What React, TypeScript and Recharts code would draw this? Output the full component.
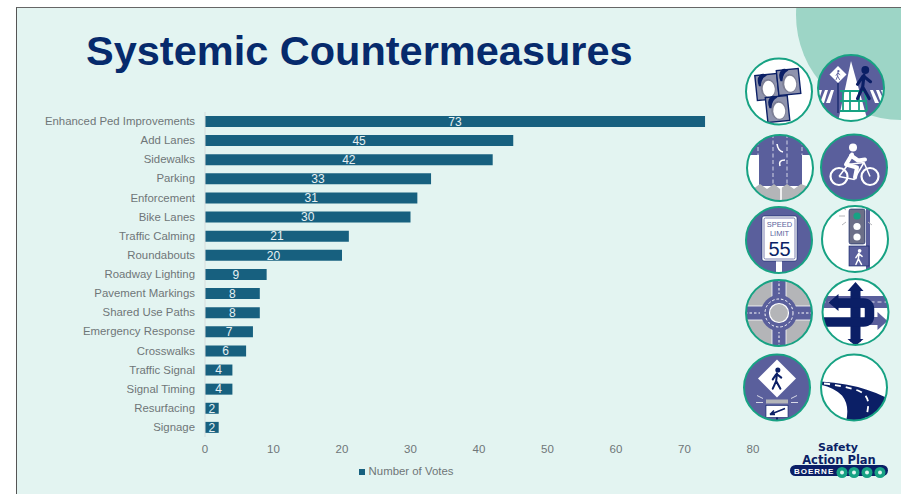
import React from "react";
import { Bar, BarChart, LabelList, Legend, XAxis, YAxis } from "recharts";

const categories = [
  "Enhanced Ped Improvements",
  "Add Lanes",
  "Sidewalks",
  "Parking",
  "Enforcement",
  "Bike Lanes",
  "Traffic Calming",
  "Roundabouts",
  "Roadway Lighting",
  "Pavement Markings",
  "Shared Use Paths",
  "Emergency Response",
  "Crosswalks",
  "Traffic Signal",
  "Signal Timing",
  "Resurfacing",
  "Signage",
];
const votes = [73, 45, 42, 33, 31, 30, 21, 20, 9, 8, 8, 7, 6, 4, 4, 2, 2];
const xTicks = [0, 10, 20, 30, 40, 50, 60, 70, 80];

const chartData = categories.map((name, i) => ({ name, votes: votes[i] }));

const FONT = '"Liberation Sans", Arial, sans-serif';
const LOGO_FONT = '"DejaVu Sans", sans-serif';
const SLIDE = "#e3f4f1";
const MINT = "#9dd5c6";
const BAR = "#17607f";
const TEXT = "#6f7678";
const NAVY = "#062a6c";
const DARK = "#0b1f66";
const PURPLE = "#5a5f9c";
const GREEN = "#17a283";
const GRAY = "#b4b5b8";

// Round badge: clips its artwork to the circle, then rings it in green
const Badge = ({ id, x, y, bg, children }: any) => (
  <g transform={`translate(${x} ${y})`}>
    <clipPath id={id}>
      <circle r={33} />
    </clipPath>
    <circle r={33} fill={bg} />
    <g clipPath={`url(#${id})`}>{children}</g>
    <circle r={33} fill="none" stroke={GREEN} strokeWidth={2} />
  </g>
);

const Walker = ({ x, y, s = 1, fill }: any) => (
  <g transform={`translate(${x} ${y}) scale(${s})`} fill={fill} stroke={fill}>
    <circle cx={1} cy={-10} r={3} stroke="none" />
    <path d="M0 -6 L-1 3 L-5 12 M-1 3 L4 12 M-1 -5 L-5 1 M0 -5 L5 -1" fill="none" strokeWidth={2.4} strokeLinecap="round" strokeLinejoin="round" />
  </g>
);

const SignalHead = ({ x, y }: any) => (
  <g transform={`translate(${x} ${y}) rotate(-6)`}>
    <rect x={-11} y={-12} width={22} height={25} fill="#8f93ad" stroke={DARK} strokeWidth={1.4} />
    <ellipse cx={1} cy={2} rx={7.5} ry={9.5} fill="#7d7f95" />
    <ellipse cx={1.5} cy={2.5} rx={6} ry={8} fill="#fff" />
    <path d="M-8 -1 Q-10 -9 -6 -12 A 5 5 0 0 1 1 -11 Q-5 -9 -6 -1 Z" fill={DARK} />
  </g>
);

const SignalsIcon = () => (
  <Badge id="b1" x={779} y={91.5} bg="#fff">
    <SignalHead x={-12} y={-5} />
    <SignalHead x={9.5} y={-10} />
    <SignalHead x={-1.5} y={17} />
  </Badge>
);

const CrossingIcon = () => (
  <Badge id="b2" x={851} y={88} bg={PURPLE}>
    <path d="M0 -27 L-13 34 L17 34 Z" fill="#fff" />
    {[-32, -26, -20, 19, 25, 30].map((sx, i) => (
      <path key={i} d={`M${sx} 2 L${sx + 3} 2 L${sx + (sx < 0 ? -1 : 9)} 15 L${sx + (sx < 0 ? -5 : 5)} 15 Z`} fill="#fff" />
    ))}
    <path d="M-11 3 H14 M-11 13 H15 M-11 23 H16 M-8 3 V23 M-1 3 V23 M8 3 V23 M14 3 L16 23" stroke={GREEN} strokeWidth={1.8} fill="none" />
    <path d="M-13 -22 L-4.5 -13.5 L-13 -5 L-21.5 -13.5 Z" fill="#fff" />
    <Walker x={-13} y={-13} s={0.38} fill={PURPLE} />
    <path d="M-13 -5 V25" stroke={DARK} strokeWidth={1.2} />
    <Walker x={13} y={-5} s={1.3} fill={DARK} />
  </Badge>
);

const LanesIcon = () => (
  <Badge id="b3" x={780} y={168} bg="#fff">
    <rect x={-34} y={-34} width={68} height={21} fill={PURPLE} />
    <rect x={-21} y={-34} width={43} height={52} fill={PURPLE} />
    <path d="M-34 17 L-27 21 L-20 16 L-13 21 L-6 16 L0 21 L7 16 L14 21 L21 16 L34 21 V34 H-34 Z" fill={GRAY} />
    <path d="M1 18 V34" stroke="#fff" strokeWidth={1.6} />
    <path d="M-7 -34 V16 M7 -34 V16 M-22 -34 V-13 M22 -34 V-13" stroke="#b9bbd6" strokeWidth={1.3} strokeDasharray="4 2.5" />
    <path d="M-3 -24 Q-2 -17 3 -16 M5 -8 Q-2 -8 0 -2" stroke="#fff" strokeWidth={1.6} fill="none" />
  </Badge>
);

const BikeIcon = () => (
  <Badge id="b4" x={854} y={167.5} bg={PURPLE}>
    <circle cx={-1} cy={-20} r={4} fill="#fff" />
    <path d="M-2 -13 L-8 -3 L3 0 L1 10 M-3 -12 L4 -7 L11 -8" stroke="#fff" strokeWidth={4} fill="none" strokeLinecap="round" strokeLinejoin="round" />
    <circle cx={-15} cy={9} r={8.5} fill="none" stroke="#fff" strokeWidth={2.2} />
    <circle cx={16} cy={9} r={8.5} fill="none" stroke="#fff" strokeWidth={2.2} />
    <path d="M-15 9 L-6 -3 L10 -5 L16 9 M10 -5 L0 12 L-15 9" stroke="#fff" strokeWidth={1.5} fill="none" />
  </Badge>
);

const SpeedIcon = () => (
  <Badge id="b5" x={779} y={240} bg={PURPLE}>
    <rect x={-3} y={20} width={6} height={16} fill="#fff" />
    <rect x={-17} y={-24} width={35} height={45} rx={2} fill="#fff" stroke={DARK} strokeWidth={0.6} />
    <rect x={-15} y={-22} width={31} height={41} rx={1.5} fill="none" stroke={PURPLE} strokeWidth={0.8} />
    <text x={0.5} y={-13} textAnchor="middle" fontFamily={FONT} fontSize={7.5} fill={PURPLE}>SPEED</text>
    <text x={0.5} y={-4.5} textAnchor="middle" fontFamily={FONT} fontSize={7.5} fill={PURPLE}>LIMIT</text>
    <text x={0.5} y={16} textAnchor="middle" fontFamily={FONT} fontSize={20} fill={DARK}>55</text>
  </Badge>
);

const PedSignalIcon = () => (
  <Badge id="b6" x={855} y={239} bg="#fff">
    <rect x={11} y={-34} width={4} height={68} fill={PURPLE} />
    <rect x={-6} y={-30} width={16} height={35} rx={2} fill="#6c6f88" stroke={DARK} strokeWidth={0.6} />
    <circle cx={2} cy={-23} r={3.6} fill={GREEN} />
    <circle cx={2} cy={-12.5} r={3.6} fill="#fff" />
    <circle cx={2} cy={-2} r={3.6} fill="#fff" />
    <rect x={-6} y={7} width={20} height={20} fill={PURPLE} stroke={DARK} strokeWidth={0.6} />
    <Walker x={4} y={18} s={0.62} fill="#fff" />
    <path d="M-9 -29 L-13 -32 M-10 -23 L-16 -23 M-9 -17 L-13 -14 M13 -29 L17 -32 M13 -17 L17 -14" stroke={GRAY} strokeWidth={1} />
  </Badge>
);

const RoundaboutIcon = () => (
  <Badge id="b7" x={779} y={313} bg={GRAY}>
    <path d="M-7 -34 H7 V34 H-7 Z M-34 -7 H34 V7 H-34 Z" fill={PURPLE} stroke="#fff" strokeWidth={0.8} />
    <circle r={18} fill={PURPLE} />
    <path d="M0 -34 V-19 M0 34 V19 M-34 0 H-19 M34 0 H19" stroke="#fff" strokeWidth={1} strokeDasharray="2.5 2" />
    <circle r={14} fill="none" stroke="#fff" strokeWidth={1} strokeDasharray="2.5 2" />
    <circle r={9.5} fill={GRAY} stroke="#fff" strokeWidth={1.2} />
  </Badge>
);

const TurnsIcon = () => (
  <Badge id="b8" x={855.5} y={312} bg="#fff">
    <rect x={-34} y={-16} width={68} height={12} fill={PURPLE} />
    <path d="M-34 -10 H34" stroke="#fff" strokeWidth={0.8} strokeDasharray="4 3" />
    <rect x={14} y={5} width={9} height={8} fill={PURPLE} />
    <path d="M22 0 L32 9 L22 18 Z" fill={PURPLE} />
    <path d="M0 -24 V30" stroke={DARK} strokeWidth={10} />
    <path d="M0 -30 L-8 -21 H8 Z M0 34 L-8 27 H8 Z" fill={DARK} />
    <path d="M-18 -9 H8 Q14 -9 14 -3 V4 Q14 10 8 10 H-34" stroke={DARK} strokeWidth={9.5} fill="none" />
    <path d="M-17 -18 L-17 -1 L-27 -9.5 Z" fill={DARK} />
  </Badge>
);

const PedSignIcon = () => (
  <Badge id="b9" x={777} y={387.5} bg={PURPLE}>
    <path d="M0 -28 L19 -9 L0 10 L-19 -9 Z" fill="#fff" />
    <Walker x={0} y={-9} s={0.85} fill={DARK} />
    <rect x={-11} y={12} width={22} height={4} fill={GRAY} />
    <rect x={-11} y={18} width={22} height={12} fill="#fff" stroke={DARK} strokeWidth={0.6} />
    <path d="M8 21 L-7 27 M-7 27 L-3 23 M-7 27 L-2 27" stroke={DARK} strokeWidth={1.6} />
    <path d="M-14 11 L-20 8 M-14 15 L-21 15 M14 11 L20 8 M14 15 L21 15" stroke="#d8d9e6" strokeWidth={1} />
    <rect x={-1} y={30} width={2} height={4} fill={DARK} />
  </Badge>
);

const RoadIcon = () => (
  <Badge id="b10" x={854} y={387.5} bg="#fff">
    <path d="M-34 -6 Q-6 -4 12 2 Q22 5 32 10 V34 H-8 Q-4 18 -12 8 Q-20 0 -34 -3 Z" fill={DARK} />
    <path d="M-30 -4 Q-12 -2 4 3 Q16 8 14 20 L12 34" fill="none" stroke="#fff" strokeWidth={1.8} strokeDasharray="6 5" />
  </Badge>
);

const Logo = () => (
  <g>
    <text x={838} y={451} textAnchor="middle" fontFamily={LOGO_FONT} fontWeight="bold" fontSize={11} fill={DARK}>Safety</text>
    <text x={839} y={463.5} textAnchor="middle" fontFamily={LOGO_FONT} fontWeight="bold" fontSize={11.5} fill={DARK}>Action Plan</text>
    <rect x={790} y={465} width={98} height={11} rx={5.5} fill={DARK} />
    <text x={794} y={474} fontFamily={FONT} fontWeight="bold" fontSize={8} letterSpacing={1} fill="#fff">BOERNE</text>
    {[842, 854, 867, 880].map((cx) => (
      <g key={cx}>
        <circle cx={cx} cy={472.5} r={5.5} fill={GREEN} />
        <circle cx={cx} cy={472.5} r={2} fill="#e3f4f1" />
      </g>
    ))}
  </g>
);

export default function App() {
  return (
    <div style={{ position: "absolute", left: 0, top: 0, width: 901, height: 494, background: "#fff", overflow: "hidden" }}>
      <div
        style={{
          position: "absolute",
          left: 16,
          top: 7,
          width: 885,
          height: 487,
          background: SLIDE,
          borderTop: "1px solid #666",
          borderLeft: "1px solid #555",
          boxSizing: "border-box",
        }}
      />
      <svg width={901} height={494} style={{ position: "absolute", left: 0, top: 0 }}>
        <clipPath id="slideClip">
          <rect x={17} y={8} width={884} height={486} />
        </clipPath>
        <circle cx={901} cy={15} r={105} fill={MINT} clipPath="url(#slideClip)" />
        <SignalsIcon />
        <CrossingIcon />
        <LanesIcon />
        <BikeIcon />
        <SpeedIcon />
        <PedSignalIcon />
        <RoundaboutIcon />
        <TurnsIcon />
        <PedSignIcon />
        <RoadIcon />
        <Logo />
      </svg>
      <div
        style={{
          position: "absolute",
          left: 86,
          top: 27,
          fontFamily: FONT,
          fontWeight: "bold",
          fontSize: 41.5,
          lineHeight: "48px",
          color: NAVY,
          whiteSpace: "nowrap",
        }}
      >
        Systemic Countermeasures
      </div>
      <div style={{ position: "absolute", left: 0, top: 0 }}>
        <BarChart
          width={901}
          height={494}
          data={chartData}
          layout="vertical"
          margin={{ top: 112, right: 148, bottom: 30, left: 0 }}
          barSize={11}
          style={{ fontFamily: FONT }}
        >
          <XAxis
            type="number"
            domain={[0, 80]}
            ticks={xTicks}
            axisLine={false}
            tickLine={false}
            height={27}
            tick={{ fill: TEXT, fontSize: 11.5 }}
            interval={0}
          />
          <YAxis
            type="category"
            dataKey="name"
            width={205}
            interval={0}
            axisLine={{ stroke: "#d6dcdc" }}
            tickLine={false}
            tickMargin={4}
            tick={{ fill: TEXT, fontSize: 11.4, dy: -0.5 }}
          />
          <Legend
            layout="horizontal"
            align="center"
            verticalAlign="middle"
            iconType="square"
            iconSize={6}
            wrapperStyle={{ top: 465, left: 306, width: 210, fontSize: 11.4 }}
            formatter={(value) => <span style={{ color: TEXT }}>{value}</span>}
          />
          <Bar dataKey="votes" name="Number of Votes" fill={BAR} isAnimationActive={false}>
            <LabelList dataKey="votes" position="center" fill="#e6f0f3" fontSize={12} />
          </Bar>
        </BarChart>
      </div>
    </div>
  );
}
